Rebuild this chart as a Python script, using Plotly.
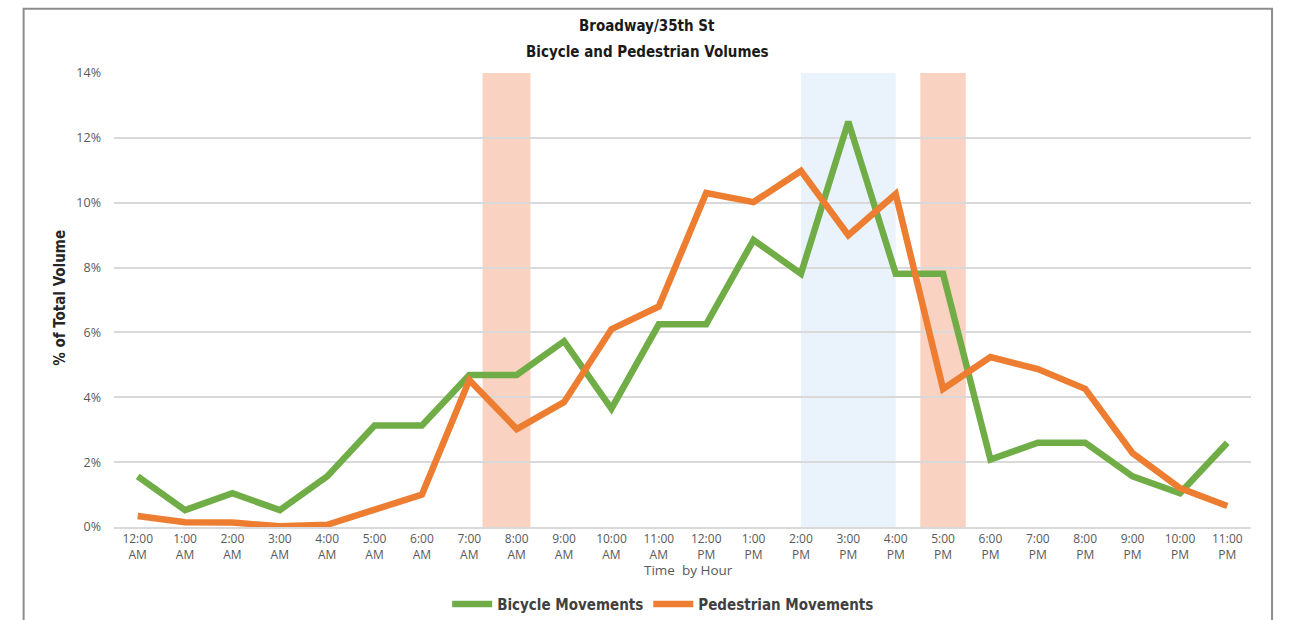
import plotly.graph_objects as go

# Hourly share of daily volume (%) at Broadway/35th St
hours = [
    "12:00<br>AM", "1:00<br>AM", "2:00<br>AM", "3:00<br>AM", "4:00<br>AM", "5:00<br>AM",
    "6:00<br>AM", "7:00<br>AM", "8:00<br>AM", "9:00<br>AM", "10:00<br>AM", "11:00<br>AM",
    "12:00<br>PM", "1:00<br>PM", "2:00<br>PM", "3:00<br>PM", "4:00<br>PM", "5:00<br>PM",
    "6:00<br>PM", "7:00<br>PM", "8:00<br>PM", "9:00<br>PM", "10:00<br>PM", "11:00<br>PM",
]
bicycle = [1.56, 0.52, 1.04, 0.52, 1.56, 3.13, 3.13, 4.69, 4.69, 5.73, 3.65, 6.25,
           6.25, 8.85, 7.81, 12.50, 7.81, 7.81, 2.08, 2.60, 2.60, 1.56, 1.04, 2.60]
pedestrian = [0.34, 0.15, 0.14, 0.02, 0.07, 0.52, 1.00, 4.53, 3.02, 3.85, 6.10, 6.80,
              10.30, 10.02, 10.98, 9.00, 10.27, 4.26, 5.24, 4.87, 4.26, 2.28, 1.20, 0.65]
y_ticks = [0, 2, 4, 6, 8, 10, 12, 14]
y_labels = ["0%", "2%", "4%", "6%", "8%", "10%", "12%", "14%"]

# Highlighted periods (in hour-index units on the category axis)
am_peak = (7.28, 8.29)
school = (14.0, 16.0)
pm_peak = (16.52, 17.48)

GREEN = "#70AD47"
ORANGE = "#ED7D31"
COND = "Liberation Sans Narrow, DejaVu Sans Condensed, Roboto, sans-serif"
BODY = "Open Sans, Noto Sans, sans-serif"

x_idx = list(range(len(hours)))

fig = go.Figure()
fig.add_trace(go.Scatter(x=x_idx, y=bicycle, mode="lines", name="<b>Bicycle Movements</b>",
                         line=dict(color=GREEN, width=6.5)))
fig.add_trace(go.Scatter(x=x_idx, y=pedestrian, mode="lines", name="<b>Pedestrian Movements</b>",
                         line=dict(color=ORANGE, width=6.5)))

shapes = []
for (a, b), col in [(am_peak, "#FAD2C2"), (school, "#EAF2FB"), (pm_peak, "#FAD2C2")]:
    shapes.append(dict(type="rect", xref="x", yref="y", x0=a, x1=b, y0=0, y1=14,
                       fillcolor=col, line=dict(width=0), layer="below"))
# outer frame
shapes.append(dict(type="rect", xref="paper", yref="paper", x0=-0.0795, x1=1.0185,
                   y0=-0.30, y1=1.1415, line=dict(color="#8C8C8C", width=2),
                   fillcolor="rgba(0,0,0,0)", layer="above"))

annotations = [
    dict(text="<b>Broadway/35th St</b>", xref="paper", yref="paper", x=0.469, y=1.103,
         showarrow=False, font=dict(family=COND, size=15, color="#1a1a1a"),
         xanchor="center", yanchor="middle"),
    dict(text="<b>Bicycle and Pedestrian Volumes</b>", xref="paper", yref="paper",
         x=0.469, y=1.047, showarrow=False, font=dict(family=COND, size=15, color="#1a1a1a"),
         xanchor="center", yanchor="middle"),
    dict(text="<b>% of Total Volume</b>", xref="paper", yref="paper", x=-0.0475, y=0.505,
         textangle=-90, showarrow=False, font=dict(family=COND, size=15, color="#262626"),
         xanchor="center", yanchor="middle"),
    dict(text="Time  by Hour", xref="paper", yref="paper", x=0.5055, y=-0.0947,
         showarrow=False, font=dict(family=BODY, size=13.5, color="#595959"),
         xanchor="center", yanchor="middle"),
]

fig.update_layout(
    width=1290, height=620,
    margin=dict(l=114, r=39, t=73, b=93, autoexpand=False),
    paper_bgcolor="white", plot_bgcolor="white",
    shapes=shapes, annotations=annotations,
    showlegend=True,
    legend=dict(orientation="h", x=0.483, xanchor="center", y=-0.17, yanchor="middle",
                font=dict(family=COND, size=15, color="#404040"),
                itemwidth=40, tracegroupgap=0),
)
fig.update_xaxes(
    range=[-0.5, 23.5], tickmode="array", tickvals=x_idx, ticktext=hours,
    showgrid=False, zeroline=False, showline=True, linecolor="#D9D9D9", linewidth=2,
    ticks="", automargin=False, tickfont=dict(family=BODY, size=12, color="#595959"),
)
fig.update_yaxes(
    range=[0, 14], tickmode="array", tickvals=y_ticks, ticktext=y_labels,
    showgrid=True, gridcolor="#D9D9D9", gridwidth=2, zeroline=False, showline=False,
    ticks="", ticklabelstandoff=12, automargin=False,
    tickfont=dict(family=BODY, size=12.5, color="#595959"),
)

fig.write_html("out.html")
